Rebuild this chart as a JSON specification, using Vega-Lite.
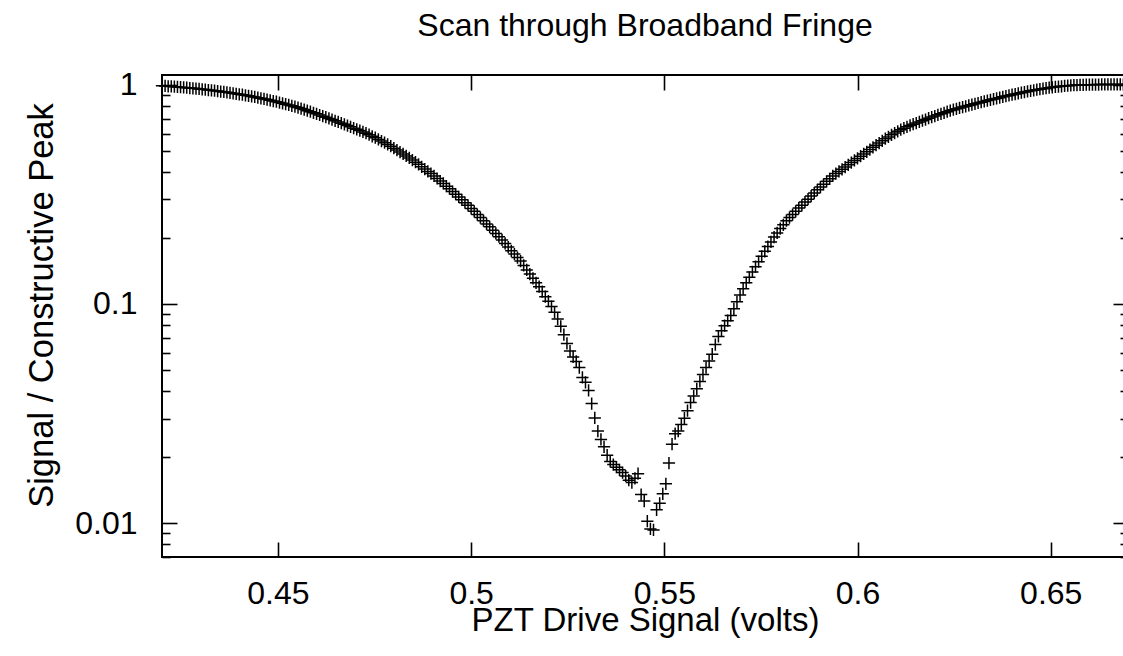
{
"$schema": "https://vega.github.io/schema/vega-lite/v6.json",
"autosize": "none",
"width": 966,
"height": 482,
"padding": {"left": 162, "top": 75, "right": 0, "bottom": 99},
"background": "white",
"config": {
  "font": "Liberation Sans",
  "view": {"stroke": "black", "strokeWidth": 2},
  "axis": {"domain": false, "grid": false, "minExtent": 0, "tickColor": "black", "tickWidth": 1.6, "labelColor": "black", "labelFont": "Liberation Sans", "labelFontSize": 32, "titleColor": "black", "titleFont": "Liberation Sans", "titleFontWeight": "normal", "labelOverlap": false, "labelBound": false, "labelFlush": false}
},
"title": {"text": "Scan through Broadband Fringe", "fontSize": 32, "fontWeight": "normal", "font": "Liberation Sans", "color": "black", "anchor": "middle", "baseline": "alphabetic", "offset": 1},
"data": {"values": [
{"volts":0.4200,"signal":0.991},{"volts":0.4208,"signal":0.989},{"volts":0.4216,"signal":0.986},{"volts":0.4224,"signal":0.984},{"volts":0.4232,"signal":0.982},{"volts":0.4240,"signal":0.979},{"volts":0.4248,"signal":0.976},{"volts":0.4256,"signal":0.974},{"volts":0.4264,"signal":0.971},{"volts":0.4272,"signal":0.968},
{"volts":0.4280,"signal":0.965},{"volts":0.4288,"signal":0.962},{"volts":0.4296,"signal":0.959},{"volts":0.4304,"signal":0.955},{"volts":0.4312,"signal":0.952},{"volts":0.4320,"signal":0.948},{"volts":0.4328,"signal":0.945},{"volts":0.4336,"signal":0.941},{"volts":0.4344,"signal":0.937},{"volts":0.4352,"signal":0.933},
{"volts":0.4360,"signal":0.929},{"volts":0.4368,"signal":0.925},{"volts":0.4376,"signal":0.920},{"volts":0.4384,"signal":0.916},{"volts":0.4392,"signal":0.911},{"volts":0.4400,"signal":0.906},{"volts":0.4408,"signal":0.902},{"volts":0.4416,"signal":0.897},{"volts":0.4424,"signal":0.892},{"volts":0.4432,"signal":0.886},
{"volts":0.4440,"signal":0.881},{"volts":0.4448,"signal":0.875},{"volts":0.4456,"signal":0.869},{"volts":0.4464,"signal":0.863},{"volts":0.4472,"signal":0.857},{"volts":0.4480,"signal":0.851},{"volts":0.4488,"signal":0.844},{"volts":0.4496,"signal":0.838},{"volts":0.4504,"signal":0.831},{"volts":0.4512,"signal":0.824},
{"volts":0.4520,"signal":0.817},{"volts":0.4528,"signal":0.810},{"volts":0.4536,"signal":0.803},{"volts":0.4544,"signal":0.796},{"volts":0.4552,"signal":0.788},{"volts":0.4560,"signal":0.780},{"volts":0.4568,"signal":0.772},{"volts":0.4576,"signal":0.763},{"volts":0.4584,"signal":0.755},{"volts":0.4592,"signal":0.746},
{"volts":0.4600,"signal":0.738},{"volts":0.4608,"signal":0.729},{"volts":0.4616,"signal":0.720},{"volts":0.4624,"signal":0.712},{"volts":0.4632,"signal":0.703},{"volts":0.4640,"signal":0.695},{"volts":0.4648,"signal":0.686},{"volts":0.4656,"signal":0.678},{"volts":0.4664,"signal":0.669},{"volts":0.4672,"signal":0.661},
{"volts":0.4680,"signal":0.652},{"volts":0.4688,"signal":0.644},{"volts":0.4696,"signal":0.635},{"volts":0.4704,"signal":0.627},{"volts":0.4712,"signal":0.619},{"volts":0.4720,"signal":0.610},{"volts":0.4728,"signal":0.602},{"volts":0.4736,"signal":0.593},{"volts":0.4744,"signal":0.583},{"volts":0.4752,"signal":0.574},
{"volts":0.4760,"signal":0.564},{"volts":0.4768,"signal":0.554},{"volts":0.4776,"signal":0.545},{"volts":0.4784,"signal":0.535},{"volts":0.4792,"signal":0.525},{"volts":0.4800,"signal":0.514},{"volts":0.4808,"signal":0.504},{"volts":0.4816,"signal":0.494},{"volts":0.4824,"signal":0.484},{"volts":0.4832,"signal":0.474},
{"volts":0.4840,"signal":0.464},{"volts":0.4848,"signal":0.454},{"volts":0.4856,"signal":0.444},{"volts":0.4864,"signal":0.434},{"volts":0.4872,"signal":0.423},{"volts":0.4880,"signal":0.413},{"volts":0.4888,"signal":0.403},{"volts":0.4896,"signal":0.394},{"volts":0.4904,"signal":0.384},{"volts":0.4912,"signal":0.374},
{"volts":0.4920,"signal":0.364},{"volts":0.4928,"signal":0.355},{"volts":0.4936,"signal":0.345},{"volts":0.4944,"signal":0.336},{"volts":0.4952,"signal":0.326},{"volts":0.4960,"signal":0.317},{"volts":0.4968,"signal":0.308},{"volts":0.4976,"signal":0.299},{"volts":0.4984,"signal":0.290},{"volts":0.4992,"signal":0.282},
{"volts":0.5000,"signal":0.273},{"volts":0.5008,"signal":0.265},{"volts":0.5016,"signal":0.256},{"volts":0.5024,"signal":0.248},{"volts":0.5032,"signal":0.240},{"volts":0.5040,"signal":0.232},{"volts":0.5048,"signal":0.225},{"volts":0.5056,"signal":0.217},{"volts":0.5064,"signal":0.210},{"volts":0.5072,"signal":0.203},
{"volts":0.5080,"signal":0.196},{"volts":0.5088,"signal":0.189},{"volts":0.5096,"signal":0.182},{"volts":0.5104,"signal":0.175},{"volts":0.5112,"signal":0.169},{"volts":0.5120,"signal":0.163},{"volts":0.5128,"signal":0.157},{"volts":0.5136,"signal":0.150},{"volts":0.5144,"signal":0.143},{"volts":0.5152,"signal":0.137},
{"volts":0.5160,"signal":0.131},{"volts":0.5168,"signal":0.125},{"volts":0.5176,"signal":0.120},{"volts":0.5184,"signal":0.114},{"volts":0.5192,"signal":0.108},{"volts":0.5200,"signal":0.103},{"volts":0.5208,"signal":0.0973},{"volts":0.5216,"signal":0.0916},{"volts":0.5224,"signal":0.0855},{"volts":0.5232,"signal":0.0791},
{"volts":0.5240,"signal":0.0724},{"volts":0.5248,"signal":0.0661},{"volts":0.5256,"signal":0.0610},{"volts":0.5264,"signal":0.0573},{"volts":0.5272,"signal":0.0547},{"volts":0.5280,"signal":0.0513},{"volts":0.5288,"signal":0.0462},{"volts":0.5296,"signal":0.0439},{"volts":0.5304,"signal":0.0403},{"volts":0.5312,"signal":0.0351},
{"volts":0.5320,"signal":0.0302},{"volts":0.5328,"signal":0.0263},{"volts":0.5336,"signal":0.0241},{"volts":0.5344,"signal":0.0223},{"volts":0.5352,"signal":0.0204},{"volts":0.5360,"signal":0.0191},{"volts":0.5368,"signal":0.0185},{"volts":0.5376,"signal":0.0180},{"volts":0.5384,"signal":0.0175},{"volts":0.5392,"signal":0.0170},
{"volts":0.5400,"signal":0.0164},{"volts":0.5408,"signal":0.0157},{"volts":0.5416,"signal":0.0153},{"volts":0.5424,"signal":0.0160},{"volts":0.5432,"signal":0.0168},{"volts":0.5440,"signal":0.0135},{"volts":0.5448,"signal":0.0126},{"volts":0.5456,"signal":0.0102},{"volts":0.5464,"signal":0.0094},{"volts":0.5472,"signal":0.0093},
{"volts":0.5480,"signal":0.0115},{"volts":0.5488,"signal":0.0123},{"volts":0.5496,"signal":0.0136},{"volts":0.5504,"signal":0.0151},{"volts":0.5512,"signal":0.0188},{"volts":0.5520,"signal":0.0229},{"volts":0.5528,"signal":0.0256},{"volts":0.5536,"signal":0.0263},{"volts":0.5544,"signal":0.0282},{"volts":0.5552,"signal":0.0301},
{"volts":0.5560,"signal":0.0326},{"volts":0.5568,"signal":0.0355},{"volts":0.5576,"signal":0.0380},{"volts":0.5584,"signal":0.0410},{"volts":0.5592,"signal":0.0443},{"volts":0.5600,"signal":0.0476},{"volts":0.5608,"signal":0.0513},{"volts":0.5616,"signal":0.0550},{"volts":0.5624,"signal":0.0590},{"volts":0.5632,"signal":0.0653},
{"volts":0.5640,"signal":0.0711},{"volts":0.5648,"signal":0.0755},{"volts":0.5656,"signal":0.0796},{"volts":0.5664,"signal":0.0839},{"volts":0.5672,"signal":0.0887},{"volts":0.5680,"signal":0.0951},{"volts":0.5688,"signal":0.1023},{"volts":0.5696,"signal":0.110},{"volts":0.5704,"signal":0.1175},{"volts":0.5712,"signal":0.125},
{"volts":0.5720,"signal":0.1324},{"volts":0.5728,"signal":0.140},{"volts":0.5736,"signal":0.148},{"volts":0.5744,"signal":0.156},{"volts":0.5752,"signal":0.165},{"volts":0.5760,"signal":0.174},{"volts":0.5768,"signal":0.183},{"volts":0.5776,"signal":0.192},{"volts":0.5784,"signal":0.202},{"volts":0.5792,"signal":0.211},
{"volts":0.5800,"signal":0.221},{"volts":0.5808,"signal":0.230},{"volts":0.5816,"signal":0.240},{"volts":0.5824,"signal":0.248},{"volts":0.5832,"signal":0.256},{"volts":0.5840,"signal":0.265},{"volts":0.5848,"signal":0.274},{"volts":0.5856,"signal":0.282},{"volts":0.5864,"signal":0.292},{"volts":0.5872,"signal":0.301},
{"volts":0.5880,"signal":0.311},{"volts":0.5888,"signal":0.321},{"volts":0.5896,"signal":0.332},{"volts":0.5904,"signal":0.342},{"volts":0.5912,"signal":0.352},{"volts":0.5920,"signal":0.363},{"volts":0.5928,"signal":0.373},{"volts":0.5936,"signal":0.384},{"volts":0.5944,"signal":0.394},{"volts":0.5952,"signal":0.403},
{"volts":0.5960,"signal":0.412},{"volts":0.5968,"signal":0.422},{"volts":0.5976,"signal":0.432},{"volts":0.5984,"signal":0.442},{"volts":0.5992,"signal":0.452},{"volts":0.6000,"signal":0.462},{"volts":0.6008,"signal":0.473},{"volts":0.6016,"signal":0.484},{"volts":0.6024,"signal":0.495},{"volts":0.6032,"signal":0.507},
{"volts":0.6040,"signal":0.519},{"volts":0.6048,"signal":0.531},{"volts":0.6056,"signal":0.543},{"volts":0.6064,"signal":0.556},{"volts":0.6072,"signal":0.568},{"volts":0.6080,"signal":0.579},{"volts":0.6088,"signal":0.592},{"volts":0.6096,"signal":0.603},{"volts":0.6104,"signal":0.614},{"volts":0.6112,"signal":0.625},
{"volts":0.6120,"signal":0.635},{"volts":0.6128,"signal":0.644},{"volts":0.6136,"signal":0.653},{"volts":0.6144,"signal":0.662},{"volts":0.6152,"signal":0.670},{"volts":0.6160,"signal":0.678},{"volts":0.6168,"signal":0.687},{"volts":0.6176,"signal":0.695},{"volts":0.6184,"signal":0.705},{"volts":0.6192,"signal":0.713},
{"volts":0.6200,"signal":0.721},{"volts":0.6208,"signal":0.730},{"volts":0.6216,"signal":0.738},{"volts":0.6224,"signal":0.746},{"volts":0.6232,"signal":0.755},{"volts":0.6240,"signal":0.764},{"volts":0.6248,"signal":0.771},{"volts":0.6256,"signal":0.778},{"volts":0.6264,"signal":0.785},{"volts":0.6272,"signal":0.792},
{"volts":0.6280,"signal":0.799},{"volts":0.6288,"signal":0.806},{"volts":0.6296,"signal":0.813},{"volts":0.6304,"signal":0.820},{"volts":0.6312,"signal":0.827},{"volts":0.6320,"signal":0.834},{"volts":0.6328,"signal":0.841},{"volts":0.6336,"signal":0.848},{"volts":0.6344,"signal":0.855},{"volts":0.6352,"signal":0.862},
{"volts":0.6360,"signal":0.868},{"volts":0.6368,"signal":0.875},{"volts":0.6376,"signal":0.882},{"volts":0.6384,"signal":0.889},{"volts":0.6392,"signal":0.896},{"volts":0.6400,"signal":0.902},{"volts":0.6408,"signal":0.909},{"volts":0.6416,"signal":0.915},{"volts":0.6424,"signal":0.922},{"volts":0.6432,"signal":0.928},
{"volts":0.6440,"signal":0.934},{"volts":0.6448,"signal":0.940},{"volts":0.6456,"signal":0.945},{"volts":0.6464,"signal":0.951},{"volts":0.6472,"signal":0.956},{"volts":0.6480,"signal":0.961},{"volts":0.6488,"signal":0.966},{"volts":0.6496,"signal":0.971},{"volts":0.6504,"signal":0.975},{"volts":0.6512,"signal":0.979},
{"volts":0.6520,"signal":0.983},{"volts":0.6528,"signal":0.986},{"volts":0.6536,"signal":0.989},{"volts":0.6544,"signal":0.992},{"volts":0.6552,"signal":0.995},{"volts":0.6560,"signal":0.997},{"volts":0.6568,"signal":0.999},{"volts":0.6576,"signal":1.000},{"volts":0.6584,"signal":1.001},{"volts":0.6592,"signal":1.002},
{"volts":0.6600,"signal":1.003},{"volts":0.6608,"signal":1.003},{"volts":0.6616,"signal":1.004},{"volts":0.6624,"signal":1.004},{"volts":0.6632,"signal":1.005},{"volts":0.6640,"signal":1.005},{"volts":0.6648,"signal":1.005},{"volts":0.6656,"signal":1.005},{"volts":0.6664,"signal":1.005},{"volts":0.6672,"signal":1.005},
{"volts":0.6680,"signal":1.005},{"volts":0.6688,"signal":1.004},{"volts":0.6696,"signal":1.004}
]},
"layer": [
  {
    "mark": {"type": "point", "shape": "M-1,0L1,0M0,-1L0,1", "size": 150, "filled": false, "stroke": "black", "strokeWidth": 1.5, "opacity": 1},
    "encoding": {
      "x": {"field": "volts", "type": "quantitative", "scale": {"domain": [0.42, 0.67], "nice": false, "zero": false},
            "axis": {"orient": "bottom", "values": [0.45, 0.5, 0.55, 0.6, 0.65], "format": "~g", "tickSize": -15, "labelPadding": 36, "title": "PZT Drive Signal (volts)", "titleFontSize": 33, "titleBaseline": "alphabetic", "titlePadding": 21}},
      "y": {"field": "signal", "type": "quantitative", "scale": {"type": "log", "domain": [0.007, 1.11], "nice": false},
            "axis": {"orient": "left", "values": [0.01, 0.1, 1], "format": "~g", "tickSize": -15, "labelPadding": 40, "title": "Signal / Constructive Peak", "titleFontSize": 34.5, "titleBaseline": "alphabetic", "titlePadding": 22, "titleY": 230}}
    }
  },
  {
    "mark": {"type": "point", "opacity": 0},
    "encoding": {
      "x": {"field": "volts", "type": "quantitative", "scale": {"domain": [0.42, 0.67], "nice": false, "zero": false},
            "axis": {"orient": "top", "values": [0.45, 0.5, 0.55, 0.6, 0.65], "labels": false, "tickSize": -15, "title": null}},
      "y": {"field": "signal", "type": "quantitative", "scale": {"type": "log", "domain": [0.007, 1.11], "nice": false},
            "axis": {"orient": "right", "values": [0.01, 0.1, 1], "labels": false, "tickSize": -15, "title": null}}
    }
  },
  {
    "mark": {"type": "point", "opacity": 0},
    "encoding": {
      "x": {"field": "volts", "type": "quantitative", "scale": {"domain": [0.42, 0.67], "nice": false, "zero": false}, "axis": null},
      "y": {"field": "signal", "type": "quantitative", "scale": {"type": "log", "domain": [0.007, 1.11], "nice": false},
            "axis": {"orient": "left", "values": [0.007, 0.008, 0.009, 0.02, 0.03, 0.04, 0.05, 0.06, 0.07, 0.08, 0.09, 0.2, 0.3, 0.4, 0.5, 0.6, 0.7, 0.8, 0.9], "labels": false, "tickSize": -8, "title": null}}
    }
  },
  {
    "mark": {"type": "point", "opacity": 0},
    "encoding": {
      "x": {"field": "volts", "type": "quantitative", "scale": {"domain": [0.42, 0.67], "nice": false, "zero": false}, "axis": null},
      "y": {"field": "signal", "type": "quantitative", "scale": {"type": "log", "domain": [0.007, 1.11], "nice": false},
            "axis": {"orient": "right", "values": [0.007, 0.008, 0.009, 0.02, 0.03, 0.04, 0.05, 0.06, 0.07, 0.08, 0.09, 0.2, 0.3, 0.4, 0.5, 0.6, 0.7, 0.8, 0.9], "labels": false, "tickSize": -8, "title": null}}
    }
  }
],
"resolve": {"axis": {"x": "independent", "y": "independent"}}
}
